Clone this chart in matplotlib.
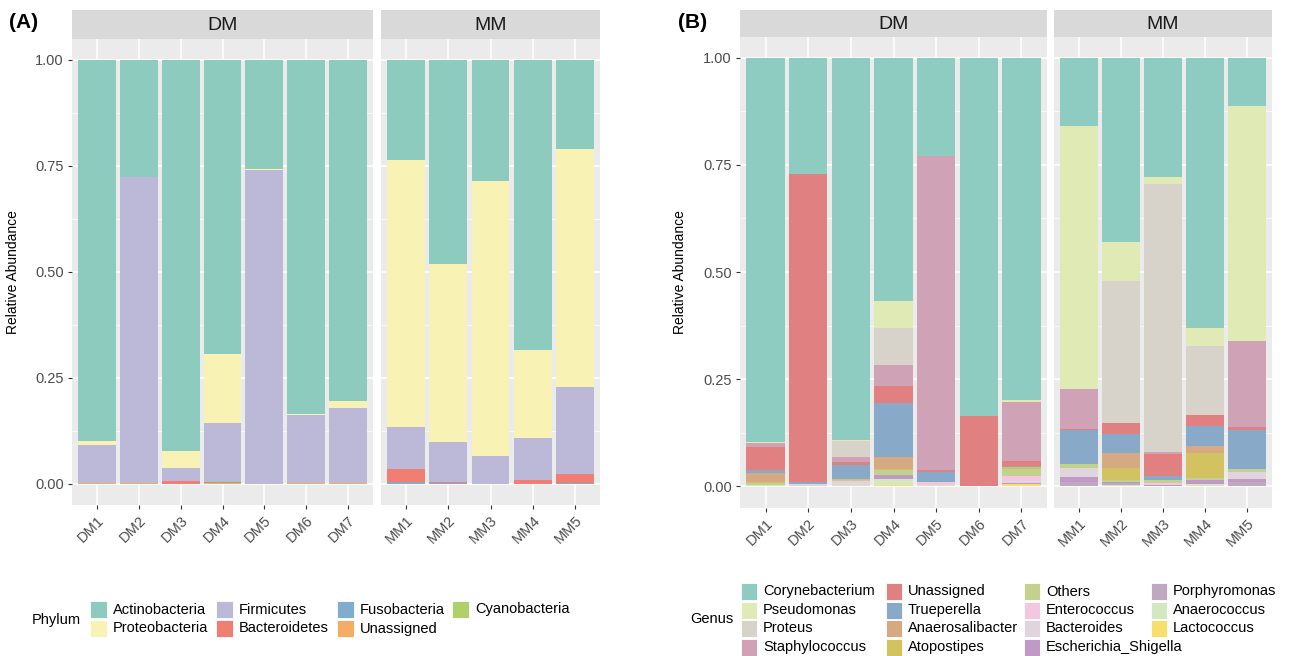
import matplotlib
matplotlib.use('Agg')
import matplotlib.pyplot as plt
from matplotlib.patches import Rectangle
import numpy as np

plt.rcParams['font.family'] = ['Liberation Sans', 'DejaVu Sans']

# ---------------- data ----------------
dm_samples = ['DM1', 'DM2', 'DM3', 'DM4', 'DM5', 'DM6', 'DM7']
mm_samples = ['MM1', 'MM2', 'MM3', 'MM4', 'MM5']

# Panel A: phylum (order = legend order; first is stacked on top)
phyla = ['Actinobacteria', 'Proteobacteria', 'Firmicutes', 'Bacteroidetes',
         'Fusobacteria', 'Unassigned', 'Cyanobacteria']
phylum_colors = ['#8DCBBF', '#F8F3B5', '#BBB8D8', '#F07E72',
                 '#80ACD0', '#F5AD66', '#AFD16A']
#                 DM1    DM2    DM3    DM4    DM5    DM6    DM7    MM1    MM2    MM3    MM4    MM5
actinobacteria = [0.900, 0.276, 0.923, 0.695, 0.257, 0.836, 0.804, 0.236, 0.481, 0.286, 0.685, 0.210]
proteobacteria = [0.008, 0.001, 0.040, 0.161, 0.003, 0.002, 0.018, 0.629, 0.420, 0.649, 0.207, 0.561]
firmicutes     = [0.090, 0.722, 0.031, 0.140, 0.740, 0.161, 0.176, 0.100, 0.094, 0.065, 0.099, 0.205]
bacteroidetes  = [0.001, 0.000, 0.006, 0.003, 0.000, 0.000, 0.001, 0.031, 0.004, 0.000, 0.009, 0.022]
fusobacteria   = [0.000, 0.000, 0.000, 0.000, 0.000, 0.000, 0.000, 0.004, 0.001, 0.000, 0.000, 0.002]
unassigned_p   = [0.001, 0.001, 0.000, 0.000, 0.000, 0.001, 0.001, 0.000, 0.000, 0.000, 0.000, 0.000]
cyanobacteria  = [0.000, 0.000, 0.000, 0.001, 0.000, 0.000, 0.000, 0.000, 0.000, 0.000, 0.000, 0.000]
phylum_values = [actinobacteria, proteobacteria, firmicutes, bacteroidetes,
                 fusobacteria, unassigned_p, cyanobacteria]

# Panel B: genus
genera = ['Corynebacterium', 'Pseudomonas', 'Proteus', 'Staphylococcus',
          'Unassigned', 'Trueperella', 'Anaerosalibacter', 'Atopostipes',
          'Others', 'Enterococcus', 'Bacteroides', 'Escherichia_Shigella',
          'Porphyromonas', 'Anaerococcus', 'Lactococcus']
genus_colors = ['#8ECBC0', '#E0EAB4', '#D7D3CA', '#CFA2B5',
                '#E08080', '#88A9C7', '#D5AA83', '#D3C262',
                '#C3D18E', '#F3C7E0', '#E0D5DC', '#C099C6',
                '#C1A8C1', '#D3E8C0', '#F7DF6C']
#                  DM1    DM2    DM3    DM4    DM5    DM6    DM7    MM1    MM2    MM3    MM4    MM5
corynebacterium = [0.896, 0.270, 0.892, 0.568, 0.228, 0.837, 0.800, 0.160, 0.431, 0.279, 0.630, 0.113]
pseudomonas     = [0.004, 0.000, 0.003, 0.062, 0.000, 0.000, 0.004, 0.613, 0.091, 0.015, 0.042, 0.548]
proteus         = [0.000, 0.000, 0.036, 0.087, 0.000, 0.000, 0.000, 0.000, 0.331, 0.627, 0.163, 0.000]
staphylococcus  = [0.009, 0.000, 0.013, 0.050, 0.734, 0.000, 0.138, 0.093, 0.000, 0.005, 0.000, 0.201]
unassigned_g    = [0.054, 0.721, 0.006, 0.039, 0.004, 0.163, 0.010, 0.004, 0.025, 0.051, 0.025, 0.006]
trueperella     = [0.006, 0.005, 0.033, 0.125, 0.025, 0.000, 0.004, 0.078, 0.044, 0.009, 0.047, 0.091]
anaerosalibacter= [0.022, 0.000, 0.000, 0.028, 0.000, 0.000, 0.000, 0.000, 0.035, 0.000, 0.015, 0.000]
atopostipes     = [0.001, 0.000, 0.002, 0.003, 0.000, 0.000, 0.004, 0.000, 0.028, 0.000, 0.058, 0.000]
others          = [0.005, 0.000, 0.003, 0.013, 0.000, 0.000, 0.017, 0.010, 0.005, 0.006, 0.006, 0.008]
enterococcus    = [0.000, 0.000, 0.002, 0.000, 0.006, 0.000, 0.012, 0.000, 0.000, 0.006, 0.000, 0.000]
bacteroides     = [0.000, 0.004, 0.008, 0.000, 0.000, 0.000, 0.003, 0.020, 0.000, 0.000, 0.000, 0.016]
escherichia     = [0.000, 0.000, 0.000, 0.008, 0.000, 0.000, 0.003, 0.013, 0.003, 0.002, 0.010, 0.008]
porphyromonas   = [0.000, 0.000, 0.000, 0.000, 0.000, 0.000, 0.000, 0.009, 0.004, 0.000, 0.000, 0.009]
anaerococcus    = [0.003, 0.000, 0.002, 0.015, 0.003, 0.000, 0.000, 0.000, 0.003, 0.000, 0.004, 0.000]
lactococcus     = [0.000, 0.000, 0.000, 0.002, 0.000, 0.000, 0.005, 0.000, 0.000, 0.000, 0.000, 0.000]
genus_values = [corynebacterium, pseudomonas, proteus, staphylococcus, unassigned_g,
                trueperella, anaerosalibacter, atopostipes, others, enterococcus,
                bacteroides, escherichia, porphyromonas, anaerococcus, lactococcus]

y_ticks = [0.0, 0.25, 0.50, 0.75, 1.00]
y_ticklabels = ['0.00', '0.25', '0.50', '0.75', '1.00']

# ---------------- figure ----------------
W, H = 1290, 656
fig = plt.figure(figsize=(W / 100, H / 100), dpi=100)

PANEL_BG = '#EBEBEB'
STRIP_BG = '#D9D9D9'
TXT = '#4D4D4D'


def px_axes(l, t, r, b):
    return fig.add_axes([l / W, 1 - b / H, (r - l) / W, (b - t) / H])


def draw_panel(ax, samples, series, colors, idx, show_y):
    n = len(samples)
    x = np.arange(n)
    bottom = np.zeros(n)
    for vals, col in reversed(list(zip(series, colors))):
        v = np.array(vals)[idx]
        ax.bar(x, v, 0.9, bottom=bottom, color=col, linewidth=0, zorder=2)
        bottom += v
    ax.set_xlim(-0.6, n - 0.4)
    ax.set_ylim(-0.05, 1.05)
    ax.set_facecolor(PANEL_BG)
    ax.set_yticks(y_ticks)
    ax.set_yticklabels(y_ticklabels)
    ax.set_yticks([0.125, 0.375, 0.625, 0.875], minor=True)
    ax.set_xticks(x)
    ax.set_xticklabels(samples, rotation=45, ha='right', rotation_mode='anchor')
    ax.grid(True, which='major', color='white', linewidth=1.1, zorder=0)
    ax.grid(True, which='minor', axis='y', color='white', linewidth=0.5, zorder=0)
    ax.set_axisbelow(True)
    for s in ax.spines.values():
        s.set_visible(False)
    ax.tick_params(which='major', length=3, width=0.8, color='#333333',
                   labelcolor=TXT, labelsize=10.5, pad=3)
    ax.tick_params(which='minor', length=0)
    if not show_y:
        ax.tick_params(axis='y', left=False, labelleft=False)


def draw_strip(l, t, r, b, label):
    sa = px_axes(l, t, r, b)
    sa.set_facecolor(STRIP_BG)
    sa.set_xticks([])
    sa.set_yticks([])
    for s in sa.spines.values():
        s.set_visible(False)
    sa.text(0.5, 0.45, label, ha='center', va='center', fontsize=14,
            color='#1A1A1A', transform=sa.transAxes)


dm_idx = slice(0, 7)
mm_idx = slice(7, 12)

# ----- Panel A -----
a_top, a_bot = 38.5, 505.0
axA1 = px_axes(72, a_top, 373, a_bot)
axA2 = px_axes(381, a_top, 600, a_bot)
draw_panel(axA1, dm_samples, phylum_values, phylum_colors, dm_idx, True)
draw_panel(axA2, mm_samples, phylum_values, phylum_colors, mm_idx, False)
draw_strip(72, 10, 373, a_top, 'DM')
draw_strip(381, 10, 600, a_top, 'MM')
fig.text(13 / W, 1 - (a_top + a_bot) / 2 / H, 'Relative Abundance', rotation=90,
         ha='center', va='center', fontsize=10, color='black')
fig.text(9 / W, 1 - 22 / H, '(A)', fontsize=15, fontweight='bold',
         ha='left', va='center')

# ----- Panel B -----
b_top, b_bot = 36.5, 507.5
axB1 = px_axes(740, b_top, 1047, b_bot)
axB2 = px_axes(1054, b_top, 1272, b_bot)
draw_panel(axB1, dm_samples, genus_values, genus_colors, dm_idx, True)
draw_panel(axB2, mm_samples, genus_values, genus_colors, mm_idx, False)
draw_strip(740, 10, 1047, b_top, 'DM')
draw_strip(1054, 10, 1272, b_top, 'MM')
fig.text(680 / W, 1 - (b_top + b_bot) / 2 / H, 'Relative Abundance', rotation=90,
         ha='center', va='center', fontsize=10, color='black')
fig.text(678 / W, 1 - 22 / H, '(B)', fontsize=15, fontweight='bold',
         ha='left', va='center')


# ----- Legends (ggplot style, filled column-wise) -----
def draw_legend(title, title_x, title_y, labels, colors, col_x, row_y, kw, kh, nrow):
    fig.text(title_x / W, 1 - title_y / H, title, ha='left', va='center',
             fontsize=10.5, color='black')
    for i, (lab, col) in enumerate(zip(labels, colors)):
        c, r = divmod(i, nrow)
        kx, ky = col_x[c], row_y[r]
        fig.add_artist(Rectangle((kx / W, 1 - (ky + kh) / H), kw / W, kh / H,
                                 transform=fig.transFigure, facecolor=col,
                                 edgecolor='white', linewidth=0.6))
        fig.text((kx + kw + 6) / W, 1 - (ky + kh / 2) / H, lab, ha='left',
                 va='center', fontsize=10.5, color='black')


draw_legend('Phylum', 32, 620, phyla, phylum_colors,
            [90, 216, 337, 452], [601, 620], 17, 17, 2)
draw_legend('Genus', 690, 619, genera, genus_colors,
            [741, 886, 1024, 1151], [583, 601.5, 620, 638.5], 16, 17, 4)

fig.savefig('out.png', dpi=100, facecolor='white')
